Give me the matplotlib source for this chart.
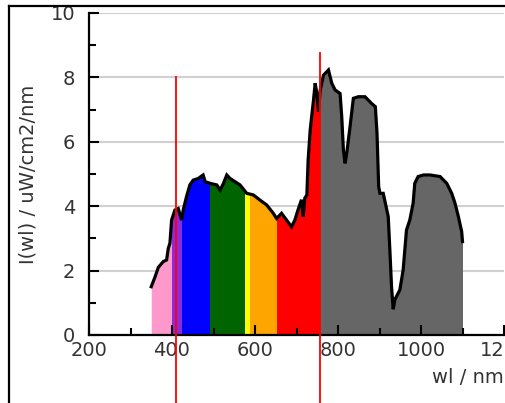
import numpy as np
import matplotlib
matplotlib.use("Agg")
import matplotlib.pyplot as plt
from matplotlib.patches import Rectangle
from matplotlib.lines import Line2D

# ---- data ----
wl = [350, 359, 367, 379, 387, 391, 395, 399, 407, 415, 423, 427, 435, 443, 451,
      463, 475, 480, 492, 508, 516, 524, 532, 540, 552, 564, 580, 596, 612, 628,
      644, 652, 664, 676, 688, 696, 704, 712, 716, 720, 725, 728, 733, 741, 745,
      749, 753, 757, 765, 777, 785, 793, 805, 809, 813, 817, 821, 829, 837, 849,
      865, 881, 890, 894, 898, 901, 909, 921, 925, 929, 933, 937, 949, 957, 965,
      973, 981, 985, 993, 1006, 1022, 1046, 1062, 1074, 1082, 1090, 1098, 1100]
intensity = [1.50, 1.80, 2.10, 2.28, 2.33, 2.69, 2.85, 3.57, 3.88, 3.93, 3.57, 3.88,
             4.30, 4.66, 4.81, 4.86, 4.97, 4.76, 4.71, 4.66, 4.50, 4.71, 4.97, 4.86,
             4.76, 4.66, 4.40, 4.35, 4.19, 4.04, 3.78, 3.62, 3.78, 3.57, 3.36, 3.57,
             3.90, 4.20, 3.68, 4.25, 4.35, 5.43, 6.37, 7.30, 7.82, 7.50, 6.94, 7.60,
             8.07, 8.23, 7.82, 7.61, 7.50, 6.78, 5.75, 5.33, 5.64, 6.47, 7.35, 7.40,
             7.40, 7.19, 7.09, 6.26, 4.61, 4.40, 4.40, 3.68, 2.64, 1.50, 0.80, 1.10,
             1.40, 2.02, 3.26, 3.57, 4.09, 4.71, 4.92, 4.97, 4.97, 4.92, 4.71, 4.40,
             4.09, 3.68, 3.21, 2.90]

band_edges = [350, 400, 425, 492, 577, 587, 652, 757, 1100]
band_colors = ["#ff99cc", "#8a2be2", "#0000ff", "#006400", "#ffff00",
               "#ffa500", "#ff0000", "#666666"]

marker_wl = [409, 757]
marker_top = [8.0, 8.76]

xticks = [200, 400, 600, 800, 1000, 1200]
yticks = [0, 2, 4, 6, 8, 10]

# ---- figure ----
W, H = 505, 403
fig = plt.figure(figsize=(W / 100, H / 100), dpi=100)
ax = fig.add_axes([89 / W, (H - 335) / H, (504 - 89) / W, (335 - 13) / H])

# grid lines (below fills)
for yv in yticks:
    ax.axhline(yv, color="#d0d0d0", lw=1.5, zorder=0)

# coloured bands under the curve
for i, c in enumerate(band_colors):
    coll = ax.fill_between(wl, 0, intensity, color=c, lw=0, zorder=1)
    clip = Rectangle((band_edges[i], -1), band_edges[i + 1] - band_edges[i], 20,
                     transform=ax.transData)
    coll.set_clip_path(clip)

ax.plot(wl, intensity, color="black", lw=2.3, zorder=2, solid_joinstyle="miter")

# red marker lines extending beyond the axes
for xv, yt in zip(marker_wl, marker_top):
    ax.plot([xv, xv], [yt, -3], color="red", lw=1.3, clip_on=False, zorder=10)

ax.set_xlim(200, 1200)
ax.set_ylim(0, 10)
ax.set_xticks(xticks)
ax.set_yticks(yticks)
ax.set_xticks([300, 500, 700, 900, 1100], minor=True)
ax.set_yticks([1, 3, 5, 7, 9], minor=True)
ax.tick_params(which="both", direction="in", width=1.5, color="black",
               labelsize=14, labelcolor="#333333")
ax.tick_params(which="major", length=7.5)
ax.tick_params(which="minor", length=5)
ax.tick_params(axis="x", pad=4)
ax.tick_params(axis="y", pad=10)

for s in ["top", "right"]:
    ax.spines[s].set_visible(False)
for s in ["left", "bottom"]:
    ax.spines[s].set_linewidth(1.6)

ax.set_ylabel("I(wl) / uW/cm2/nm", fontsize=14, color="#333333", labelpad=9)
ax.set_xlabel("wl / nm", fontsize=14, color="#333333", loc="right", labelpad=6)

# outer frame (left and top edges)
fig.add_artist(Line2D([9 / W, 9 / W], [0, 1 - 6 / H], transform=fig.transFigure,
                      color="black", lw=1.6))
fig.add_artist(Line2D([9 / W, 1], [1 - 6 / H, 1 - 6 / H], transform=fig.transFigure,
                      color="black", lw=1.6))

fig.savefig("out.png", dpi=100)
